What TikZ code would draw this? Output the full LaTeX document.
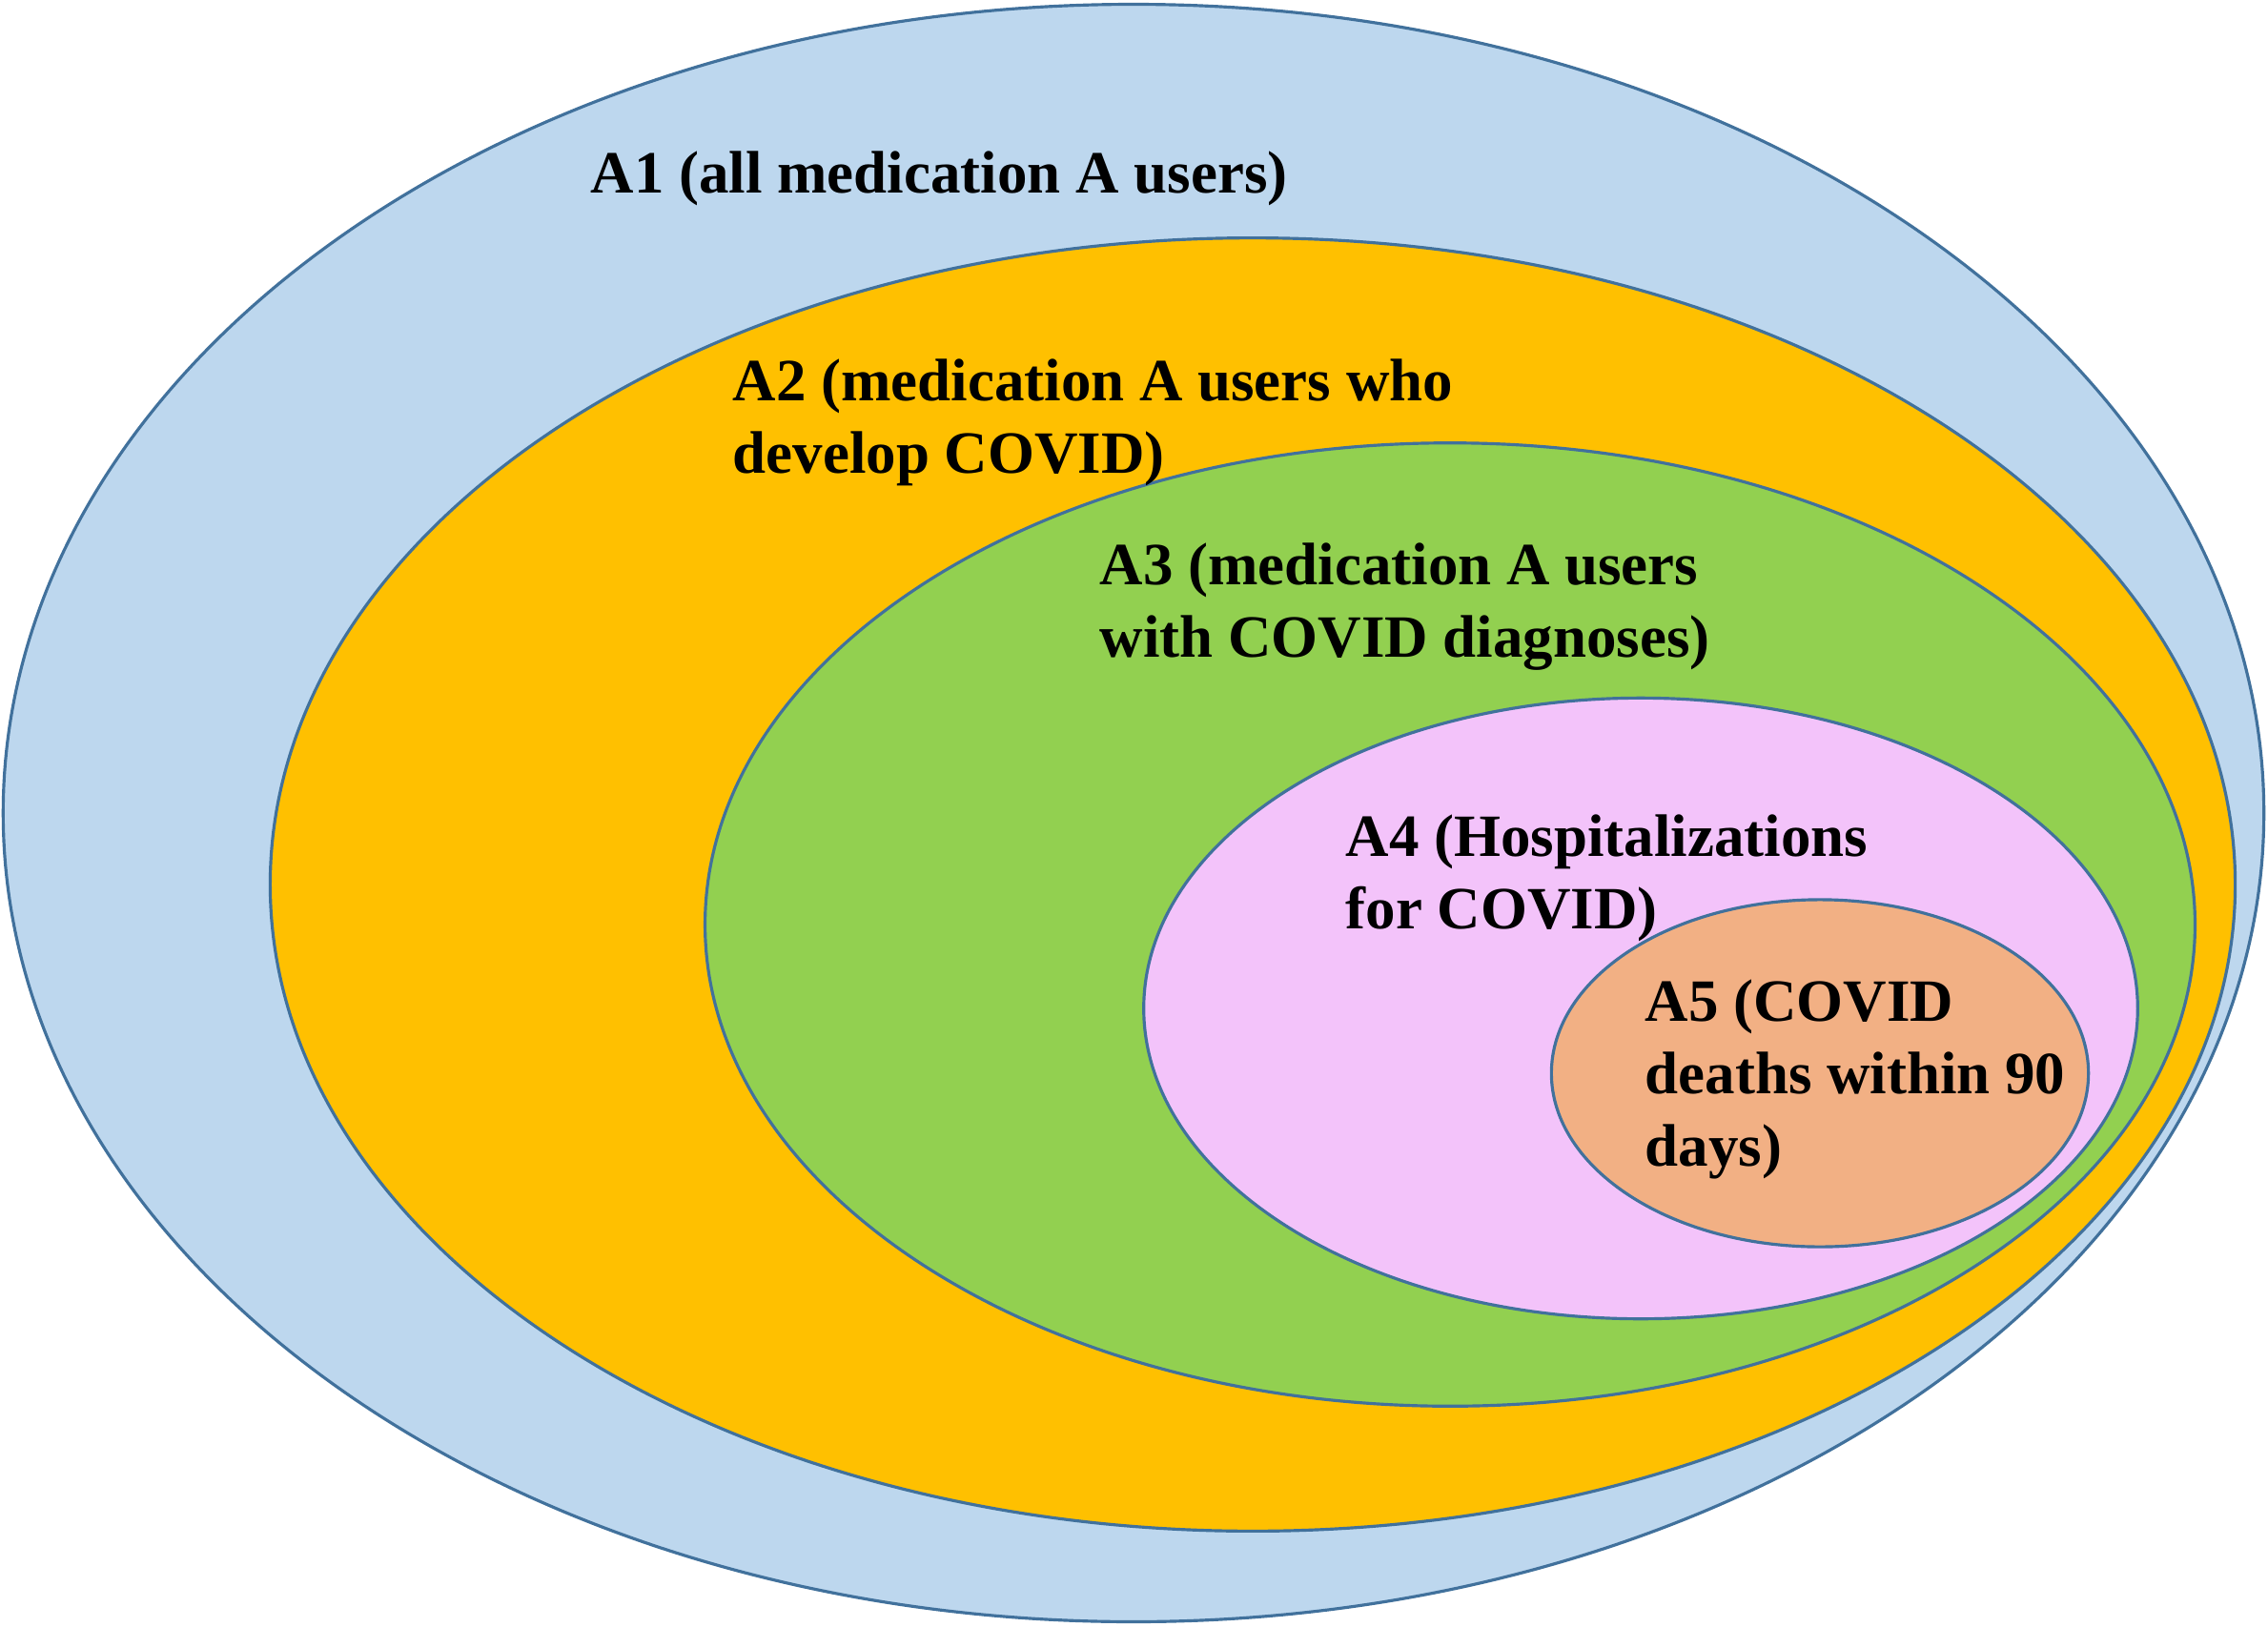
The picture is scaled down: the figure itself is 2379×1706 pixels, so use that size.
\documentclass[tikz,border=0pt]{standalone}
\usepackage{fontspec}
\setmainfont{Liberation Serif}
\usetikzlibrary{shapes.geometric}
\definecolor{setline}{HTML}{41719C}
\definecolor{setblue}{HTML}{BDD7EE}
\definecolor{setorange}{HTML}{FFC000}
\definecolor{setgreen}{HTML}{92D050}
\definecolor{setpink}{HTML}{F3C3FA}
\definecolor{setsalmon}{HTML}{F2B084}

\begin{document}
\begin{tikzpicture}[x=0.01cm, y=-0.01cm,
		set/.style={draw=setline, ellipse, line width=0.9pt, inner sep=0pt},
		setlabel/.style={anchor=north west, inner sep=0pt, align=left, font=\fontsize{17.9}{21.6}\selectfont\bfseries}]
	\useasboundingbox (0,0) rectangle (2379,1706);
	% nested sets, outermost first
	\node[set, fill=setblue, minimum width=23.70cm, minimum height=16.96cm] (A1)at(1189, 853) {};
	\node[set, fill=setorange, minimum width=20.60cm, minimum height=13.56cm] (A2)at(1314, 928) {};
	\node[set, fill=setgreen, minimum width=15.62cm, minimum height=10.10cm] (A3)at(1521, 970) {};
	\node[set, fill=setpink, minimum width=10.42cm, minimum height=6.51cm] (A4)at(1721, 1058) {};
	\node[set, fill=setsalmon, minimum width=5.63cm, minimum height=3.64cm] (A5)at(1909, 1126) {};
	% labels
	\node[setlabel] (A1text)at(619, 158) {A1 (all medication A users)};
	\node[setlabel] (A2text)at(768, 376) {A2 (medication A users who\\develop COVID)};
	\node[setlabel] (A3text)at(1153, 569) {A3 (medication A users\\with COVID diagnoses)};
	\node[setlabel] (A4text)at(1411, 854) {A4 (Hospitalizations\\for COVID)};
	\node[setlabel] (A5text)at(1725, 1027) {A5 (COVID\\deaths within 90\\days)};
\end{tikzpicture}
\end{document}
